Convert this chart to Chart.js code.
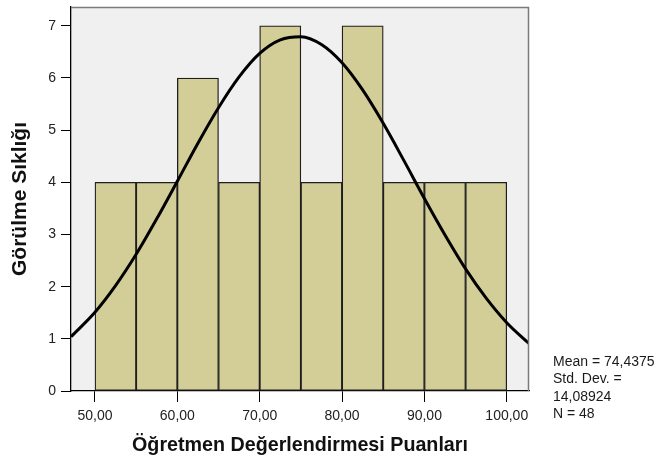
<!DOCTYPE html>
<html>
<head>
<meta charset="utf-8">
<script src="https://cdn.jsdelivr.net/npm/chart.js@4/dist/chart.umd.min.js"></script>
<style>
  body { margin: 0; background: #fff; }
  canvas { display: block; }
</style>
</head>
<body>
<canvas id="hist" width="655" height="461"></canvas>
<script>
// histogram bins (centre of each 5-point bin) and counts
const binCenters = [52.5, 57.5, 62.5, 67.5, 72.5, 77.5, 82.5, 87.5, 92.5, 97.5];
const binCounts = [4, 4, 6, 4, 7, 4, 7, 4, 4, 4];

// normal curve
const curveX = [47.09, 50, 52.5, 55, 57.5, 60, 62.5, 65, 67.5, 70, 72.5, 75, 77.5, 80, 82.5, 85, 87.5, 90, 92.5, 95, 97.5, 100, 102.7];
const curveY = [1.04, 1.51, 2.02, 2.62, 3.30, 4.02, 4.75, 5.43, 6.02, 6.47, 6.73, 6.79, 6.64, 6.29, 5.77, 5.13, 4.42, 3.69, 2.99, 2.34, 1.78, 1.31, 0.91];

const xTicks = [50, 60, 70, 80, 90, 100];
const xTickLabels = ["50,00", "60,00", "70,00", "80,00", "90,00", "100,00"];
const yTicks = [0, 1, 2, 3, 4, 5, 6, 7];

const statLines = ["Mean = 74,4375", "Std. Dev. =", "14,08924", "N = 48"];

const plotBg = {
    id: 'plotBg',
    beforeDraw(chart) {
        const { ctx, chartArea: a } = chart;
        ctx.save();
        ctx.fillStyle = '#f0f0f0';
        ctx.fillRect(a.left, a.top, a.right - a.left, a.bottom - a.top);
        ctx.restore();
    },
    afterDraw(chart) {
        const { ctx, chartArea: a } = chart;
        ctx.save();
        ctx.strokeStyle = '#7a7a7a';
        ctx.lineWidth = 1.5;
        ctx.beginPath();
        ctx.moveTo(a.left, a.top + 0.5);
        ctx.lineTo(a.right - 0.5, a.top + 0.5);
        ctx.lineTo(a.right - 0.5, a.bottom);
        ctx.stroke();
        ctx.fillStyle = '#1a1a1a';
        ctx.font = '14px "Liberation Sans", Arial, sans-serif';
        ctx.textBaseline = 'middle';
        statLines.forEach((t, i) => ctx.fillText(t, 553, 362 + i * 17.5));
        ctx.restore();
    }
};

new Chart(document.getElementById('hist'), {
    type: 'bar',
    data: {
        datasets: [
            {
                type: 'line',
                order: 0,
                data: curveX.map((x, i) => ({ x: x, y: curveY[i] })),
                borderColor: '#000',
                borderWidth: 3,
                pointRadius: 0,
                cubicInterpolationMode: 'monotone',
                fill: false
            },
            {
                order: 1,
                data: binCenters.map((x, i) => ({ x: x, y: binCounts[i] })),
                backgroundColor: '#d3ce98',
                borderColor: '#1e1e1e',
                borderWidth: 1.3,
                borderSkipped: false,
                barPercentage: 1,
                categoryPercentage: 1
            }
        ]
    },
    options: {
        responsive: false,
        animation: false,
        layout: { padding: { top: 7, right: 126, left: 0, bottom: 0 } },
        plugins: { legend: { display: false }, tooltip: { enabled: false } },
        scales: {
            x: {
                type: 'linear',
                min: 47.09,
                max: 102.7,
                offset: false,
                afterFit: s => { s.height = 70; s.paddingLeft = 0; s.paddingRight = 0; },
                afterBuildTicks: s => { s.ticks = xTicks.map(v => ({ value: v })); },
                grid: { drawOnChartArea: false, tickLength: 11, tickColor: '#000', offset: false },
                border: { color: '#000', width: 1.3 },
                ticks: {
                    padding: 6,
                    color: '#222',
                    maxRotation: 0,
                    font: { family: '"Liberation Sans", Arial, sans-serif', size: 14 },
                    callback: v => xTickLabels[xTicks.indexOf(v)]
                },
                title: {
                    display: true,
                    text: 'Öğretmen Değerlendirmesi Puanları',
                    color: '#111',
                    padding: { bottom: 4 },
                    font: { family: '"Liberation Sans", Arial, sans-serif', size: 19.7, weight: 'bold' }
                }
            },
            y: {
                min: 0,
                max: 7.36,
                afterFit: s => { s.width = 71; s.paddingTop = 0; s.paddingBottom = 0; },
                afterBuildTicks: s => { s.ticks = yTicks.map(v => ({ value: v })); },
                grid: { drawOnChartArea: false, tickLength: 10, tickColor: '#000' },
                border: { color: '#000', width: 1.3 },
                ticks: {
                    padding: 5,
                    color: '#222',
                    font: { family: '"Liberation Sans", Arial, sans-serif', size: 14 }
                },
                title: {
                    display: true,
                    text: 'Görülme Sıklığı',
                    color: '#111',
                    padding: { top: 8 },
                    font: { family: '"Liberation Sans", Arial, sans-serif', size: 21, weight: 'bold' }
                }
            }
        }
    },
    plugins: [plotBg]
});
</script>
</body>
</html>
